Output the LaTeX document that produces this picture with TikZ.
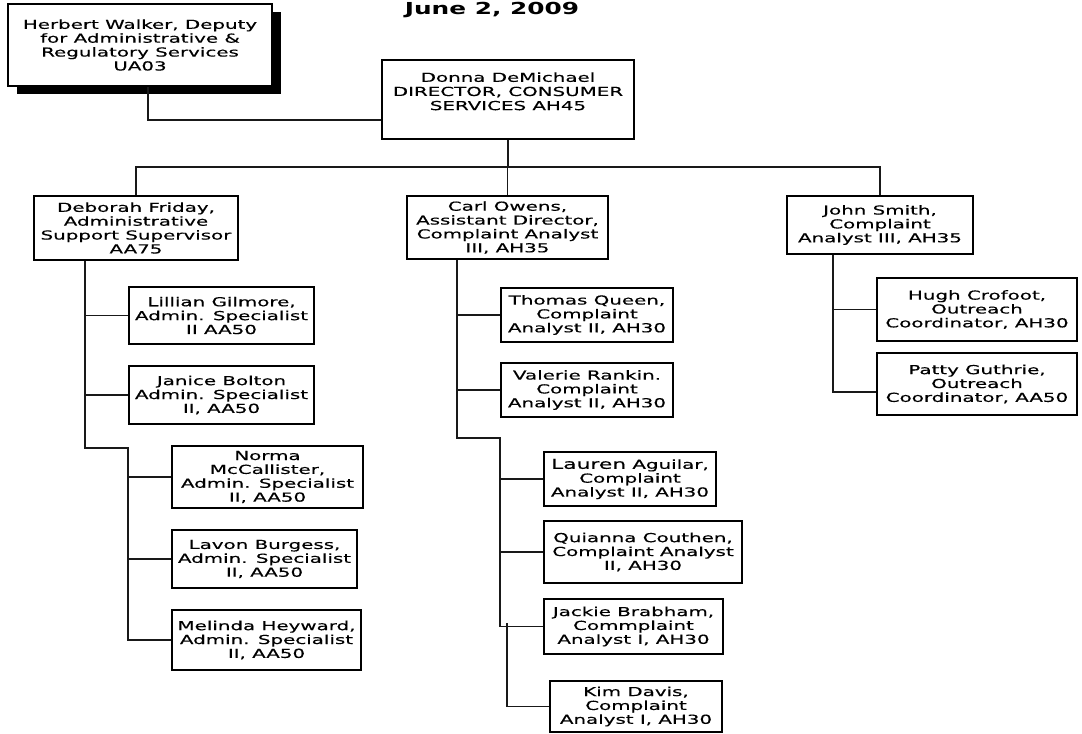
\documentclass[tikz,border=0pt]{standalone}
\usepackage{fontspec}
\setmainfont{DejaVu Sans}[FakeStretch=1.6, FakeBold=0.4]
\newfontfamily\titlefont{DejaVu Sans}[FakeStretch=1.5]
\usetikzlibrary{shadows}
\tikzset{
  orgbox/.style 2 args={draw=black, line width=1.3pt, fill=white, inner sep=0pt, align=center,
    minimum width={#1*0.75pt}, minimum height={#2*0.75pt}, font=\fontsize{9.3}{10.4}\selectfont},
  link/.style={draw=black!90, line width=1.25pt},
  plain/.style={inner sep=0pt, align=center, font=\fontsize{9.3}{10.6}\selectfont},
}
\begin{document}
\begin{tikzpicture}[x=0.75pt,y=-0.75pt]
\useasboundingbox (0,0) rectangle (1082,733);

\node[font=\titlefont\fontsize{12.4}{14}\selectfont\bfseries] (title) at (492,10) {June 2, 2009};

\node[orgbox={264}{82}, general shadow={fill=black, shadow xshift=6.75pt, shadow yshift=-6pt}] (herb) at (140,45)
  {Herbert Walker, Deputy\\for Administrative \&\\Regulatory Services\\UA03};
\node[orgbox={252}{79}] (donna) at (508,99.5) {};
\node[plain, anchor=north] (donnat) at ([yshift=-9.75pt]donna.north) {Donna DeMichael\\DIRECTOR, CONSUMER\\SERVICES AH45};

\node[orgbox={204}{64}] (deb) at (136,228) {Deborah Friday,\\Administrative\\Support Supervisor\\AA75};
\node[orgbox={201}{63}] (carl) at (507.5,227.5) {Carl Owens,\\Assistant Director,\\Complaint Analyst\\III, AH35};
\node[orgbox={186}{58}] (john) at (880,225) {John Smith,\\Complaint\\Analyst III, AH35};

\node[orgbox={185}{57}] (lil) at (221.5,315.5) {Lillian Gilmore,\\Admin. Specialist\\II AA50};
\node[orgbox={185}{58}] (jan) at (221.5,395) {Janice Bolton\\Admin. Specialist\\II, AA50};
\node[orgbox={191}{62}] (norma) at (267.5,477) {Norma\\McCallister,\\Admin. Specialist\\II, AA50};
\node[orgbox={185}{58}] (lavon) at (264.5,559) {Lavon Burgess,\\Admin. Specialist\\II, AA50};
\node[orgbox={189}{60}] (mel) at (266.5,640) {Melinda Heyward,\\Admin. Specialist\\II, AA50};

\node[orgbox={172}{54}] (thomas) at (587,315) {Thomas Queen,\\Complaint\\Analyst II, AH30};
\node[orgbox={172}{54}] (val) at (587,390) {Valerie Rankin.\\Complaint\\Analyst II, AH30};
\node[orgbox={172}{54}] (lauren) at (630,479) {{\fontsize{10.2}{10.4}\selectfont Lauren} Aguilar,\\Complaint\\Analyst II, AH30};
\node[orgbox={198}{62}] (quianna) at (643,552) {Quianna Couthen,\\Complaint Analyst\\II, AH30};
\node[orgbox={179}{55}] (jackie) at (633.5,626.5) {Jackie Brabham,\\Commplaint\\Analyst I, AH30};
\node[orgbox={172}{51}] (kim) at (636,706.5) {Kim Davis,\\Complaint\\Analyst I, AH30};

\node[orgbox={200}{63}] (hugh) at (977,309.5) {Hugh Crofoot,\\Outreach\\Coordinator, AH30};
\node[orgbox={200}{62}] (patty) at (977,384) {Patty Guthrie,\\Outreach\\Coordinator, AA50};

% top connectors
\draw[link] ([xshift=6pt]herb.south) |- ([yshift=-15.375pt]donna.west);
\coordinate (bus) at (508,167);
\draw[link] (donna.south) -- (bus);
\draw[link] (deb.north) |- (bus) -| (john.north);
\draw[link] (carl.north) -- (carl.north |- bus);

% Deborah's branch
\coordinate (d1) at (85,448);
\coordinate (d2) at (128,448);
\draw[link] (deb.south -| d1) -- (d1) -- (d2) |- (mel.west);
\draw[link] (lil.west) -- (lil.west -| d1);
\draw[link] (jan.west) -- (jan.west -| d1);
\draw[link] (norma.west) -- (norma.west -| d2);
\draw[link] (lavon.west) -- (lavon.west -| d2);

% Carl's branch
\coordinate (c1) at (457,438);
\coordinate (c2) at (500,438);
\draw[link] (carl.south -| c1) -- (c1) -- (c2) |- (jackie.west);
\draw[link] (thomas.west) -- (thomas.west -| c1);
\draw[link] (val.west) -- (val.west -| c1);
\draw[link] (lauren.west) -- (lauren.west -| c2);
\draw[link] (quianna.west) -- (quianna.west -| c2);
\coordinate (k0) at (507,623);
\draw[link] (k0) |- (kim.west);

% John's branch
\coordinate (j1) at (833,392);
\draw[link] (john.south -| j1) -- (j1) -- (j1 -| patty.west);
\draw[link] (hugh.west) -- (hugh.west -| j1);
\end{tikzpicture}
\end{document}
